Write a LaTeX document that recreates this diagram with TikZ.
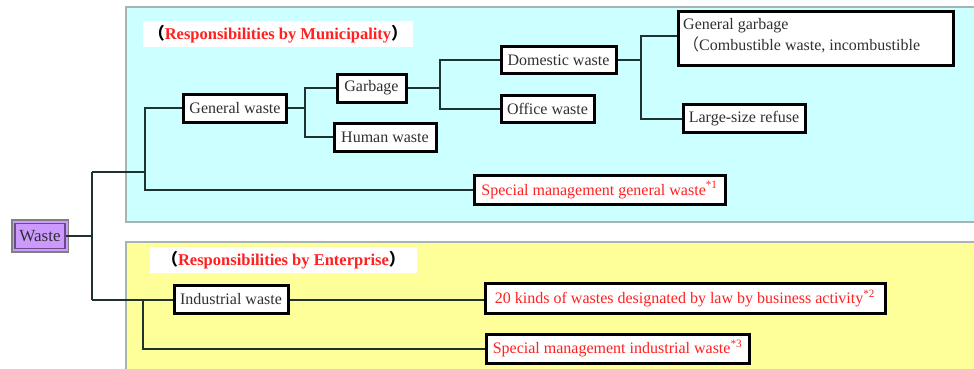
\documentclass[tikz,border=0pt]{standalone}
\usepackage{fontspec}
\setmainfont{Liberation Serif}
\newfontfamily\cjk{Noto Sans CJK JP}
\usetikzlibrary{calc}
\definecolor{panelcyan}{HTML}{CCFFFF}
\definecolor{panelyellow}{HTML}{FFFF99}
\definecolor{paneledge}{HTML}{A8B4B4}
\definecolor{wastefill}{HTML}{CC99FF}
\definecolor{wasteedge}{HTML}{6A4A8A}
\definecolor{linkc}{HTML}{1E3232}
\definecolor{redtext}{HTML}{FF2020}
\definecolor{boxtext}{HTML}{303030}
\begin{document}
\begin{tikzpicture}[x=1pt,y=-1pt,
  panel/.style={draw=paneledge,line width=1.6pt},
  itembox/.style={draw=black,line width=3pt,fill=white,inner sep=0pt,
    text=boxtext,font=\fontsize{16}{18}\selectfont},
  reditem/.style={itembox,text=redtext},
  link/.style={draw=linkc,line width=2pt},
  heading/.style={fill=white,inner sep=0pt,font=\fontsize{16.5}{18}\selectfont\bfseries}
]
\useasboundingbox (0,0) rectangle (974,369);

% responsibility panels
\filldraw[panel,fill=panelcyan] (126,7) rectangle (990,222);
\filldraw[panel,fill=panelyellow] (126,242) rectangle (990,380);

% panel headings
\node[heading,minimum width=270,minimum height=26] (hmun) at (278,34)
  {{\cjk （}\textcolor{redtext}{Responsibilities by Municipality}{\cjk ）}};
\node[heading,minimum width=267,minimum height=26] (hent) at (283.5,260)
  {{\cjk （}\textcolor{redtext}{Responsibilities by Enterprise}{\cjk ）}};

% root
\draw[gray,line width=1.4pt,fill=wastefill] (12,220) rectangle (68.5,252);
\node[draw=wasteedge,line width=1.2pt,fill=wastefill,minimum width=50,minimum height=25,
  inner sep=0pt,font=\fontsize{17}{18}\selectfont,text=boxtext] (waste) at (40,236) {Waste};

% municipal categories
\node[itembox,minimum width=103,minimum height=28] (gen) at (235,108) {General waste};
\node[itembox,minimum width=69,minimum height=28] (garb) at (371.5,88) {Garbage};
\node[itembox,minimum width=102,minimum height=28] (hum) at (385,137) {Human waste};
\node[itembox,minimum width=115,minimum height=27] (dom) at (558.5,60) {Domestic waste};
\node[itembox,minimum width=93,minimum height=27] (off) at (547.5,108.5) {Office waste};
\node[itembox,minimum width=275,minimum height=54] (ggar) at (815.5,39) {};
\node[anchor=north west,inner sep=0pt,align=left,text=boxtext,
  font=\fontsize{16}{21}\selectfont] (ggartxt) at (683,18)
  {General garbage\\{\cjk （}Combustible waste, incombustible};
\node[itembox,minimum width=122,minimum height=28] (large) at (744,118.5) {Large-size refuse};
\node[reditem,minimum width=251,minimum height=29] (smg) at (599.5,190)
  {Special management general waste\textsuperscript{*1}};

% enterprise categories
\node[itembox,minimum width=114,minimum height=28] (ind) at (231,299.5) {Industrial waste};
\node[reditem,minimum width=400,minimum height=30] (k20) at (685,298.5)
  {20 kinds of wastes designated by law by business activity\textsuperscript{*2}};
\node[reditem,minimum width=263,minimum height=29] (sind) at (617.5,348.5)
  {Special management industrial waste\textsuperscript{*3}};

% junction points
\coordinate (tA) at (92,172);
\coordinate (tB) at (92,299.5);
\coordinate (bm) at (145,172);
\coordinate (bi) at (143,299.5);

% tree connectors
\draw[link] (waste.east) -- (waste.east -| tA);
\draw[link] (tA) -- (tB);
\draw[link] (tA) -- (bm);
\draw[link] (gen.west) -| (bm) |- (smg.west);
\draw[link] (gen.east) -- ++(17,0) coordinate (jg);
\draw[link] (garb.west) -| (jg) |- (hum.west);
\draw[link] (garb.east) -- ++(32,0) coordinate (jd);
\draw[link] (dom.west) -| (jd) |- (off.west);
\draw[link] (dom.east) -- ++(23,0) coordinate (jh);
\draw[link] ($(ggar.west)+(0,-3)$) -| (jh) |- (large.west);
\draw[link] (tB) -- (ind.west);
\draw[link] (bi) |- (sind.west);
\draw[link] (ind.east) -- (ind.east -| k20.west);
\end{tikzpicture}
\end{document}
